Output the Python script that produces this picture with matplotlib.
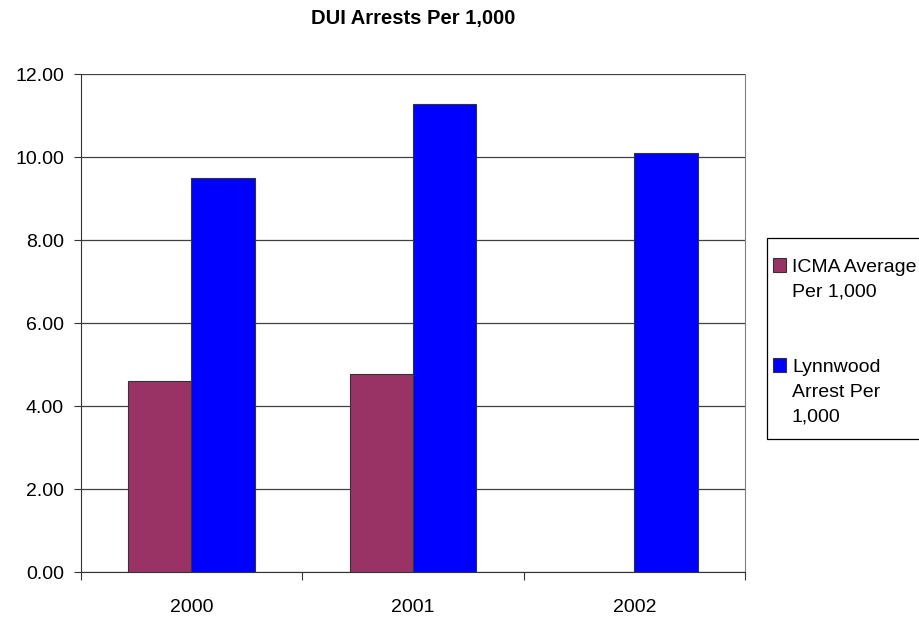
import numpy as np
import matplotlib
matplotlib.use("Agg")
import matplotlib.pyplot as plt
from matplotlib.patches import Rectangle

plt.rcParams['font.family'] = ['Liberation Sans', 'DejaVu Sans']

years = ["2000", "2001", "2002"]
icma_avg = [4.61, 4.79, np.nan]
lynnwood = [9.49, 11.28, 10.10]
y_ticks = [0, 2, 4, 6, 8, 10, 12]
series_names = [["ICMA Average", "Per 1,000"], ["Lynnwood", "Arrest Per", "1,000"]]
series_colors = ["#993366", "#0000ff"]

W, H = 920, 618
fig = plt.figure(figsize=(W / 100, H / 100), dpi=100)
ax = fig.add_axes([80.7 / W, 1 - 572.3 / H, (745 - 80.7) / W, (572.3 - 74.3) / H])

x = np.arange(len(years))
w = 0.286
ax.bar(x - w / 2, icma_avg, w, color=series_colors[0], edgecolor="#333333", linewidth=0.8, zorder=3)
ax.bar(x + w / 2, lynnwood, w, color=series_colors[1], edgecolor="#333333", linewidth=0.8, zorder=3)

ax.set_xlim(-0.5, 2.5)
ax.set_ylim(0, 12)
ax.set_yticks(y_ticks)
ax.set_yticklabels([f"{v:.2f}" for v in y_ticks], fontsize=14)
ax.set_xticks([-0.5, 0.5, 1.5, 2.5])
ax.set_xticklabels([])
ax.set_xticks(x, minor=True)
ax.set_xticklabels(years, minor=True, fontsize=14)
ax.tick_params(axis="x", which="minor", length=0, pad=19)
ax.tick_params(axis="x", which="major", length=5.5, direction="out", color="#333333")
ax.tick_params(axis="y", length=5, direction="out", color="#333333", pad=7)

ax.yaxis.grid(True, color="#404040", linewidth=0.9, zorder=0)
ax.set_axisbelow(True)
ax.spines["top"].set_visible(False)
ax.spines["right"].set_color("#808080")
ax.spines["left"].set_color("#333333")
ax.spines["bottom"].set_color("#333333")

fig.text(412.8 / W, 1 - 18.5 / H, "DUI Arrests Per 1,000", ha="center", va="center",
         fontsize=14.5, fontweight="bold")


# legend box, drawn in figure pixel units (running off the right edge)
def px(xp, yp):
    return xp / W, 1 - yp / H


fig.patches.append(Rectangle(px(767, 439), 170 / W, 201 / H, transform=fig.transFigure,
                             facecolor="white", edgecolor="black", linewidth=0.9))
entry_tops = [258, 358]
line_step = 24.8
for name_lines, color, top in zip(series_names, series_colors, entry_tops):
    fig.patches.append(Rectangle(px(773, top + 13.5), 13.5 / W, 13.5 / H,
                                 transform=fig.transFigure, facecolor=color,
                                 edgecolor="#333333", linewidth=0.8))
    for i, line in enumerate(name_lines):
        fig.text(*px(792, top + 14 + i * line_step), line, ha="left", va="baseline",
                 fontsize=14)

fig.savefig("out.png", dpi=100)
